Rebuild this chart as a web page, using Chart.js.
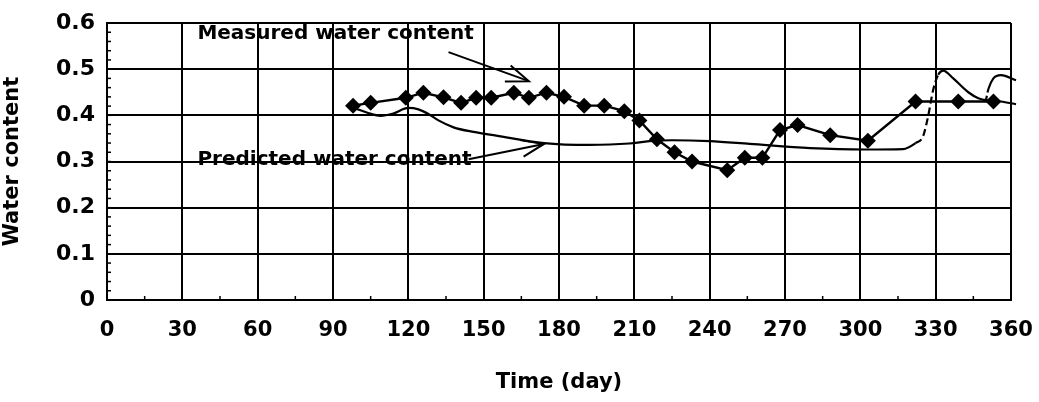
<!DOCTYPE html>
<html>
<head>
<meta charset="utf-8">
<script src="https://cdn.jsdelivr.net/npm/chart.js@4.4.0/dist/chart.umd.min.js"></script>
<style>
  html, body { margin: 0; padding: 0; background: #ffffff; }
  #wrap { width: 1039px; height: 402px; }
</style>
</head>
<body>
<div id="wrap"><canvas id="c" width="1039" height="402"></canvas></div>
<script>
// ---- data ----
const measuredDays = [98, 105, 119, 126, 134, 141, 147, 153, 162, 168, 175, 182, 190, 198, 206, 212, 219, 226, 233, 247, 254, 261, 268, 275, 288, 303, 322, 339, 353];
const measuredWC   = [0.421, 0.427, 0.438, 0.449, 0.439, 0.427, 0.438, 0.438, 0.449, 0.438, 0.449, 0.440, 0.421, 0.421, 0.409, 0.389, 0.348, 0.320, 0.300, 0.281, 0.308, 0.308, 0.368, 0.379, 0.357, 0.345, 0.430, 0.430, 0.430];

const predictedDays = [99, 104, 109, 114, 120, 124, 128, 132, 138, 146, 155, 174, 192, 208, 216, 225, 240, 256, 280, 302, 317, 322, 325, 327, 329, 331, 333, 337, 343, 347, 351, 356, 362];
const predictedWC   = [0.415, 0.405, 0.399, 0.404, 0.416, 0.413, 0.403, 0.389, 0.374, 0.364, 0.356, 0.340, 0.336, 0.339, 0.344, 0.346, 0.344, 0.338, 0.329, 0.326, 0.327, 0.340, 0.355, 0.398, 0.455, 0.488, 0.497, 0.480, 0.450, 0.437, 0.432, 0.430, 0.424];

const predicted2Days = [350, 351, 353, 356, 362];
const predicted2WC   = [0.432, 0.457, 0.480, 0.487, 0.476];

const xTickValues = [0, 30, 60, 90, 120, 150, 180, 210, 240, 270, 300, 330, 360];
const yTickLabels = ['0', '0.1', '0.2', '0.3', '0.4', '0.5', '0.6'];

const measuredLabel = 'Measured water content';
const predictedLabel = 'Predicted water content';
const xTitle = 'Time (day)';
const yTitle = 'Water content';

// annotation anchors in data units (day, water content)
const measuredNote = { text: measuredLabel, at: [36, 0.577], arrowFrom: [136, 0.537], arrowTo: [168, 0.474] };
const predictedNote = { text: predictedLabel, at: [36, 0.304], arrowFrom: [144, 0.305], arrowTo: [174, 0.338] };

// ---- build datasets ----
const toXY = (xs, ys) => xs.map((x, i) => ({ x: x, y: ys[i] }));

const dashedRise = (ctx) => {
  const a = ctx.p0.parsed.x, b = ctx.p1.parsed.x;
  return (a >= 322 && b <= 331) ? [7, 4] : undefined;
};
const dashedStart2 = (ctx) => (ctx.p0DataIndex === 0 ? [5, 3] : undefined);

const BOLD = 'DejaVu Sans';

const annotationPlugin = {
  id: 'notes',
  afterDraw(chart) {
    const ctx = chart.ctx;
    const xs = chart.scales.x, ys = chart.scales.y;
    const P = (p) => [xs.getPixelForValue(p[0]), ys.getPixelForValue(p[1])];
    ctx.save();
    // minor ticks
    ctx.strokeStyle = '#000';
    ctx.lineWidth = 1.5;
    const left = chart.chartArea.left, bottom = chart.chartArea.bottom;
    for (let v = 0.02; v < 0.6; v += 0.02) {
      const y = ys.getPixelForValue(v);
      ctx.beginPath(); ctx.moveTo(left, y); ctx.lineTo(left + 4, y); ctx.stroke();
    }
    for (let d = 15; d < 360; d += 30) {
      const x = xs.getPixelForValue(d);
      ctx.beginPath(); ctx.moveTo(x, bottom); ctx.lineTo(x, bottom - 4); ctx.stroke();
    }
    // notes
    ctx.fillStyle = '#000';
    ctx.font = 'bold 20px "' + BOLD + '"';
    ctx.textBaseline = 'middle';
    ctx.textAlign = 'left';
    [measuredNote, predictedNote].forEach(n => {
      const t = P(n.at);
      ctx.fillText(n.text, t[0], t[1]);
      const f = P(n.arrowFrom), e = P(n.arrowTo);
      ctx.lineWidth = 2;
      ctx.beginPath(); ctx.moveTo(f[0], f[1]); ctx.lineTo(e[0], e[1]); ctx.stroke();
      const ang = Math.atan2(e[1] - f[1], e[0] - f[0]);
      const L = 24, spread = 0.36;
      ctx.beginPath();
      ctx.moveTo(e[0] - L * Math.cos(ang - spread), e[1] - L * Math.sin(ang - spread));
      ctx.lineTo(e[0], e[1]);
      ctx.lineTo(e[0] - L * Math.cos(ang + spread), e[1] - L * Math.sin(ang + spread));
      ctx.stroke();
    });
    ctx.restore();
  }
};

new Chart(document.getElementById('c'), {
  type: 'scatter',
  data: {
    datasets: [
      {
        label: predictedLabel,
        data: toXY(predictedDays, predictedWC),
        showLine: true,
        borderColor: '#000',
        borderWidth: 2.2,
        pointRadius: 0,
        cubicInterpolationMode: 'monotone',
        clip: false,
        segment: { borderDash: dashedRise }
      },
      {
        label: predictedLabel + ' (2)',
        data: toXY(predicted2Days, predicted2WC),
        showLine: true,
        borderColor: '#000',
        borderWidth: 2.2,
        pointRadius: 0,
        cubicInterpolationMode: 'monotone',
        clip: false,
        segment: { borderDash: dashedStart2 }
      },
      {
        label: measuredLabel,
        data: toXY(measuredDays, measuredWC),
        showLine: true,
        borderColor: '#000',
        backgroundColor: '#000',
        borderWidth: 2.4,
        pointStyle: 'rectRot',
        pointRadius: 8,
        pointBorderWidth: 0,
        tension: 0
      }
    ]
  },
  options: {
    responsive: false,
    animation: false,
    events: [],
    layout: { padding: { left: 0, right: 28, top: 23, bottom: 0 } },
    plugins: { legend: { display: false }, tooltip: { enabled: false } },
    scales: {
      x: {
        type: 'linear',
        min: 0, max: 360,
        afterBuildTicks: (s) => { s.ticks = xTickValues.map(v => ({ value: v })); },
        afterFit: (s) => { s.height = 102; s.paddingLeft = 0; s.paddingRight = 0; },
        ticks: {
          color: '#000',
          padding: 18,
          font: { family: BOLD, size: 21, weight: 'bold' },
          maxRotation: 0,
          autoSkip: false
        },
        grid: { color: '#000', lineWidth: 2, drawTicks: false },
        border: { color: '#000', width: 2 },
        title: {
          display: true, text: xTitle, color: '#000',
          font: { family: BOLD, size: 21, weight: 'bold' },
          padding: { top: 0, bottom: 7 }
        }
      },
      y: {
        type: 'linear',
        min: 0, max: 0.6,
        ticks: {
          stepSize: 0.1,
          color: '#000',
          padding: 12,
          font: { family: BOLD, size: 22, weight: 'bold' },
          callback: (v) => yTickLabels[Math.round(v * 10)]
        },
        afterFit: (s) => { s.width = 107; s.paddingTop = 0; s.paddingBottom = 0; },
        grid: { color: '#000', lineWidth: 2, drawTicks: false },
        border: { color: '#000', width: 2 },
        title: {
          display: true, text: yTitle, color: '#000',
          font: { family: BOLD, size: 21, weight: 'bold' },
          padding: { top: 0, bottom: 0 }
        }
      }
    }
  },
  plugins: [annotationPlugin]
});
</script>
</body>
</html>
